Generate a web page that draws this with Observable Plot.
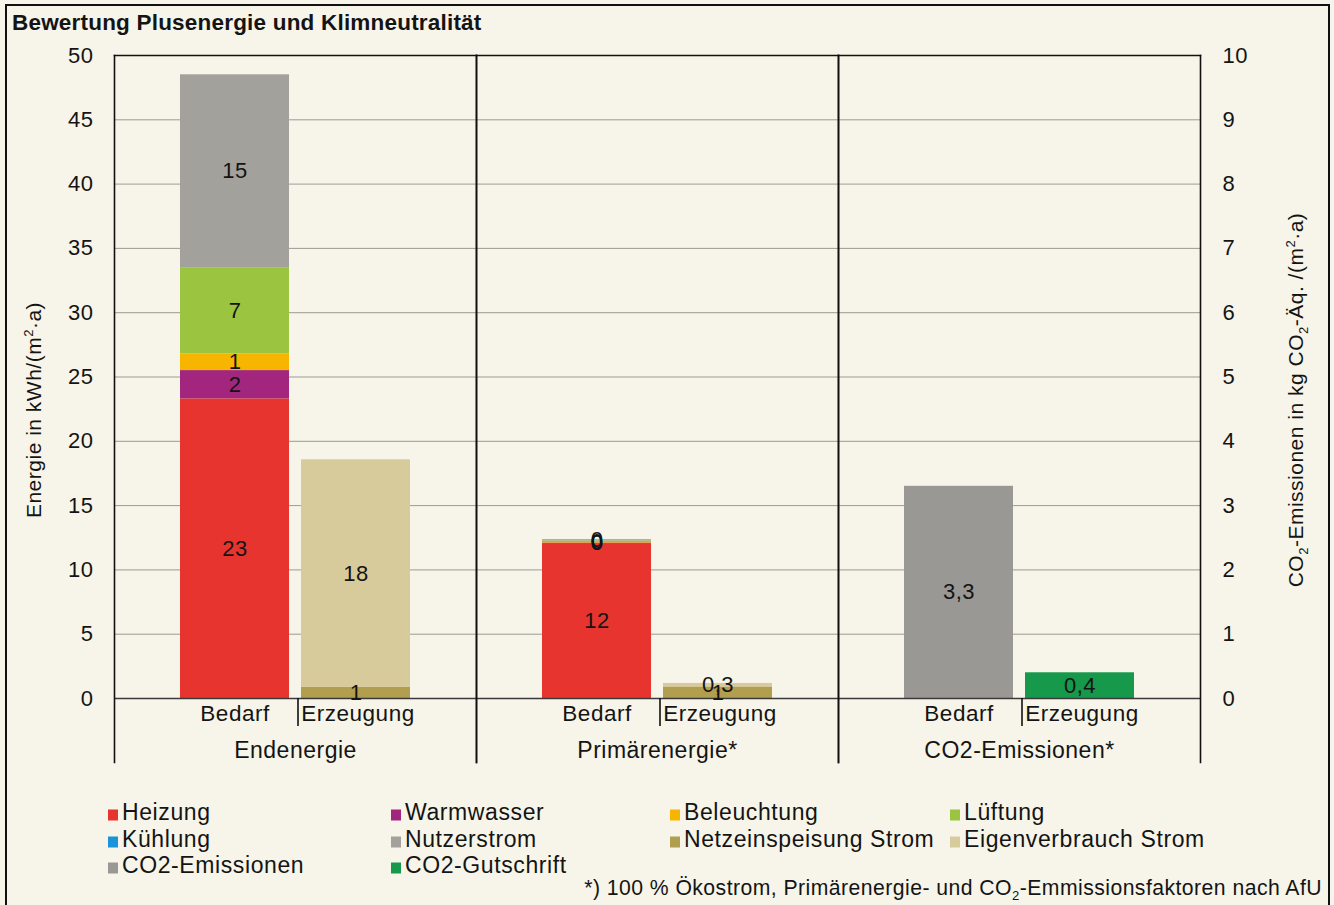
<!DOCTYPE html>
<html>
<head>
<meta charset="utf-8">
<script src="https://cdn.jsdelivr.net/npm/d3@7"></script>
<script src="https://cdn.jsdelivr.net/npm/@observablehq/plot@0.6"></script>
<style>
  html, body { margin: 0; padding: 0; background: #f7f4e9; }
  #wrap { position: relative; width: 1334px; height: 905px; background: #f7f4e9; overflow: hidden;
          font-family: "Liberation Sans", Arial, sans-serif; color: #141414; letter-spacing: 0.5px; }
  #border { position: absolute; left: 5px; top: 4px; width: 1321px; height: 920px; border: 2px solid #111; }
  #title { position: absolute; left: 12px; top: 10px; font-size: 22.5px; font-weight: bold; letter-spacing: 0.2px; white-space: nowrap; }
  #chart { position: absolute; left: 0; top: 0; }
  .ylab { position: absolute; font-size: 21px; white-space: nowrap; transform: translate(-50%, -50%) rotate(-90deg); }
  .ylab sub, .ylab sup, #foot sub { font-size: 0.62em; }
  .leg { position: absolute; font-size: 23px; white-space: nowrap; line-height: 1; transform: translateY(-50%); letter-spacing: 0.6px; }
  .leg i { display: inline-block; width: 10px; height: 11px; margin-right: 4px; vertical-align: -1px; }
  #foot { position: absolute; right: 12px; top: 876px; font-size: 21.2px; white-space: nowrap; letter-spacing: 0.45px; }
</style>
</head>
<body>
<div id="wrap">
  <div id="border"></div>
  <div id="title">Bewertung Plusenergie und Klimneutralität</div>
  <div id="chart"></div>
  <div class="ylab" style="left:33px; top:410px;">Energie in kWh/(m<sup>2</sup>·a)</div>
  <div class="ylab" style="left:1297px; top:400px;">CO<sub>2</sub>-Emissionen in kg CO<sub>2</sub>-Äq. /(m<sup>2</sup>·a)</div>
  <div id="legend"></div>
  <div id="foot">*) 100 % Ökostrom, Primärenergie- und CO<sub>2</sub>-Emmissionsfaktoren nach AfU</div>
</div>
<script>
// ---------- data ----------
const groups = ["Endenergie", "Primärenergie*", "CO2-Emissionen*"];
const sides = ["Bedarf", "Erzeugung"];
const categories = ["Heizung", "Warmwasser", "Beleuchtung", "Lüftung", "Kühlung", "Nutzerstrom",
  "Netzeinspeisung Strom", "Eigenverbrauch Strom", "CO2-Emissionen", "CO2-Gutschrift"];
const colors = ["#e8342f", "#a3267e", "#f8b500", "#9bc440", "#1b93d8", "#a3a19c",
  "#b19e4e", "#d8cb9b", "#9a9894", "#16994a"];

const demandCats = ["Heizung", "Warmwasser", "Beleuchtung", "Lüftung", "Kühlung", "Nutzerstrom"];
const supplyCats = ["Netzeinspeisung Strom", "Eigenverbrauch Strom"];

// Endenergie (kWh/(m²·a))
const endBedarf = [23.3, 2.2, 1.3, 6.7, 0, 15.0];
const endBedarfLabels = ["23", "2", "1", "7", "", "15"];
const endErzeugung = [0.86, 17.7];
const endErzeugungLabels = ["1", "18"];

// Primärenergie (kWh/(m²·a))
const primBedarf = [12.05, 0.04, 0.04, 0.12, 0, 0.1];
const primBedarfLabels = ["12", "0", "0", "0", "", "0"];
const primErzeugung = [0.9, 0.27];
const primErzeugungLabels = ["1", "0,3"];

// CO2-Emissionen (kg CO2-Äq./(m²·a))
const co2Bedarf = 3.3;
const co2Erzeugung = 0.4;
const co2Labels = ["3,3", "0,4"];

// axis ticks
const energyTicks = [0, 5, 10, 15, 20, 25, 30, 35, 40, 45, 50];
const co2Ticks = [0, 1, 2, 3, 4, 5, 6, 7, 8, 9, 10];

// ---------- table ----------
const energyMax = energyTicks[energyTicks.length - 1];
const co2Max = co2Ticks[co2Ticks.length - 1];
const k = energyMax / co2Max; // CO2 values drawn on the shared scale (right axis)
const rows = [];
function add(group, side, cats, vals, labs) {
  cats.forEach((c, i) => rows.push({group, side, cat: c, value: vals[i], label: labs[i]}));
}
add(groups[0], "Bedarf", demandCats, endBedarf, endBedarfLabels);
add(groups[0], "Erzeugung", supplyCats, endErzeugung, endErzeugungLabels);
add(groups[1], "Bedarf", demandCats, primBedarf, primBedarfLabels);
add(groups[1], "Erzeugung", supplyCats, primErzeugung, primErzeugungLabels);
rows.push({group: groups[2], side: "Bedarf", cat: "CO2-Emissionen", value: co2Bedarf * k, label: co2Labels[0]});
rows.push({group: groups[2], side: "Erzeugung", cat: "CO2-Gutschrift", value: co2Erzeugung * k, label: co2Labels[1]});

const stackOpts = {fx: "group", x: "side", y: "value", z: "cat", order: categories};

const plot = Plot.plot({
  width: 1334,
  height: 780,
  marginTop: 55,
  marginBottom: 82,
  marginLeft: 113,
  marginRight: 134,
  style: "background:transparent;font-family:'Liberation Sans',Arial,sans-serif;font-size:22px;letter-spacing:0.5px;color:#141414;overflow:visible;",
  fx: {domain: groups, padding: 0},
  x: {domain: sides, paddingInner: 0.1, paddingOuter: 0.54},
  y: {domain: [0, energyMax]},
  color: {domain: categories, range: colors},
  marks: [
    Plot.gridY(energyTicks.filter(v => v > 0 && v < energyMax), {stroke: "#85857e", strokeOpacity: 0.8, strokeWidth: 1}),
    Plot.barY(rows, Plot.stackY({...stackOpts, fill: "cat"})),
    Plot.ruleY([0], {stroke: "#3a3a3a", strokeWidth: 1.3}),
    Plot.text(rows.filter(d => d.label), Plot.stackY({...stackOpts, text: "label", fill: "#141414", fontSize: 22})),
    Plot.frame({anchor: "top", stroke: "#111", strokeWidth: 1.6}),
    Plot.frame({anchor: "left", stroke: "#111", strokeWidth: 1.6, insetBottom: -64}),
    Plot.frame({anchor: "right", stroke: "#111", strokeWidth: 1.6, insetBottom: -64}),
    Plot.axisY(energyTicks, {anchor: "left", tickSize: 0, tickPadding: 21, fontSize: 22, label: null}),
    Plot.axisY(energyTicks, {anchor: "right", tickSize: 0, tickPadding: 22, fontSize: 22, label: null, tickFormat: d => d / k}),
    Plot.axisX(["Bedarf"], {anchor: "bottom", tickSize: 0, tickPadding: 7, fontSize: 22.5, label: null}),
    Plot.axisX(["Erzeugung"], {anchor: "bottom", tickSize: 0, tickPadding: 7, fontSize: 22.5, dx: 2, label: null}),
    Plot.axisX(["Erzeugung"], {anchor: "bottom", tickSize: 28, tickFormat: () => "", dx: -58, stroke: "#111", strokeWidth: 1.6, label: null}),
    Plot.axisFx({anchor: "bottom", tickSize: 0, tickPadding: 43, fontSize: 23, label: null})
  ]
});
document.getElementById("chart").appendChild(plot);

// ---------- legend ----------
const legCols = [108, 391, 670, 950];
const legRows = [812, 839, 865];
const legend = document.getElementById("legend");
categories.forEach((c, i) => {
  const el = document.createElement("div");
  el.className = "leg";
  el.style.left = legCols[i % 4] + "px";
  el.style.top = legRows[Math.floor(i / 4)] + "px";
  el.innerHTML = `<i style="background:${colors[i]}"></i>${c}`;
  legend.appendChild(el);
});
</script>
</body>
</html>
